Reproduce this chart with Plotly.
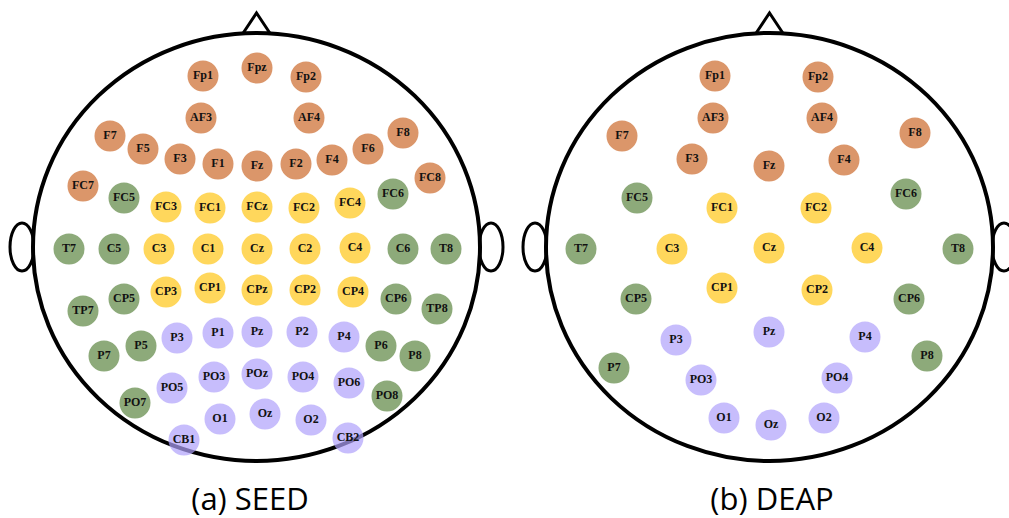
import plotly.graph_objects as go

# ---- electrode layouts (page pixel coordinates) ----
seed_names = ["Fp1", "Fpz", "Fp2", "AF3", "AF4",
              "F7", "F5", "F3", "F1", "Fz", "F2", "F4", "F6", "F8",
              "FC7", "FC5", "FC3", "FC1", "FCz", "FC2", "FC4", "FC6", "FC8",
              "T7", "C5", "C3", "C1", "Cz", "C2", "C4", "C6", "T8",
              "TP7", "CP5", "CP3", "CP1", "CPz", "CP2", "CP4", "CP6", "TP8",
              "P7", "P5", "P3", "P1", "Pz", "P2", "P4", "P6", "P8",
              "PO7", "PO5", "PO3", "POz", "PO4", "PO6", "PO8",
              "CB1", "O1", "Oz", "O2", "CB2"]
seed_x = [203, 257, 306, 201, 309,
          110, 143, 180, 218, 257, 296, 332, 368, 403,
          83, 124, 166, 210, 257, 304, 350, 393, 430,
          69, 114, 159, 208, 257, 305, 355, 403, 446,
          83, 124, 166, 210, 257, 305, 353, 396, 437,
          104, 141, 177, 218, 257, 302, 344, 381, 415,
          135, 172, 214, 257, 303, 349, 387,
          184, 220, 265, 311, 348]
seed_y = [76, 68, 77, 118, 118,
          136, 149, 159, 164, 166, 164, 160, 149, 133,
          186, 198, 207, 208, 207, 208, 203, 194, 178,
          249, 249, 249, 249, 249, 249, 248, 249, 249,
          311, 299, 292, 288, 290, 290, 292, 299, 309,
          356, 346, 338, 333, 332, 332, 337, 346, 356,
          403, 388, 377, 374, 377, 383, 396,
          440, 419, 414, 420, 438]
seed_region = ["F", "F", "F", "F", "F",
               "F", "F", "F", "F", "F", "F", "F", "F", "F",
               "F", "T", "C", "C", "C", "C", "C", "T", "F",
               "T", "T", "C", "C", "C", "C", "C", "T", "T",
               "T", "T", "C", "C", "C", "C", "C", "T", "T",
               "T", "T", "P", "P", "P", "P", "P", "T", "T",
               "T", "P", "P", "P", "P", "P", "T",
               "P", "P", "P", "P", "P"]

deap_names = ["Fp1", "Fp2", "AF3", "AF4", "F7", "F3", "Fz", "F4", "F8",
              "FC5", "FC1", "FC2", "FC6",
              "T7", "C3", "Cz", "C4", "T8",
              "CP5", "CP1", "CP2", "CP6",
              "P7", "P3", "Pz", "P4", "P8",
              "PO3", "PO4", "O1", "Oz", "O2"]
deap_x = [715, 818, 713, 822, 622, 692, 769, 844, 915,
          637, 722, 816, 906,
          581, 672, 769, 867, 958,
          636, 722, 817, 909,
          614, 676, 769, 865, 927,
          701, 837, 724, 771, 824]
deap_y = [76, 77, 118, 118, 136, 159, 166, 160, 133,
          198, 208, 208, 194,
          249, 249, 248, 248, 249,
          299, 288, 290, 299,
          368, 340, 332, 337, 356,
          380, 378, 418, 425, 418]
deap_region = ["F", "F", "F", "F", "F", "F", "F", "F", "F",
               "T", "C", "C", "T",
               "T", "C", "C", "C", "T",
               "T", "C", "C", "T",
               "T", "P", "P", "P", "T",
               "P", "P", "P", "P", "P"]

captions = ["(a) SEED", "(b) DEAP"]
caption_x = [250, 772]
caption_y = [502, 502]

# head outlines: centre x, ears and nose share the same geometry
head_cx = [256.5, 769.5]

region_colors = {
    "F": "rgb(219,150,106)",
    "C": "rgb(255,215,92)",
    "T": "rgb(141,170,122)",
    "P": "rgba(175,161,251,0.7)",
}

fig = go.Figure()

for names, xs, ys, regs in [(seed_names, seed_x, seed_y, seed_region),
                            (deap_names, deap_x, deap_y, deap_region)]:
    fig.add_trace(go.Scatter(
        x=xs, y=ys, text=names, mode="markers+text",
        marker=dict(size=31, color=[region_colors[r] for r in regs],
                    line=dict(width=0)),
        textposition="middle center",
        textfont=dict(family="Liberation Serif", size=12, color="#111111",
                      weight="bold"),
        cliponaxis=False, hoverinfo="text", showlegend=False,
    ))

fig.add_trace(go.Scatter(
    x=caption_x, y=caption_y, text=captions, mode="text",
    textposition="middle center",
    textfont=dict(family="Open Sans", size=31, color="black"),
    cliponaxis=False, hoverinfo="skip", showlegend=False,
))

shapes = []
for cx in head_cx:
    # ears
    for ex in (cx - 234.5, cx + 234.5):
        shapes.append(dict(type="circle", xref="x", yref="y",
                           x0=ex - 12, x1=ex + 12, y0=223, y1=271,
                           line=dict(color="black", width=3),
                           fillcolor="white", layer="below"))
    # scalp
    shapes.append(dict(type="circle", xref="x", yref="y",
                       x0=cx - 223.5, x1=cx + 223.5, y0=33, y1=461,
                       line=dict(color="black", width=4),
                       fillcolor="white", layer="below"))
    # nose
    shapes.append(dict(type="path", xref="x", yref="y",
                       path=f"M {cx-14},34 L {cx},13 L {cx+14},34",
                       line=dict(color="black", width=3), layer="below"))

fig.update_layout(
    width=1009, height=518,
    margin=dict(l=0, r=0, t=0, b=0),
    paper_bgcolor="white", plot_bgcolor="white",
    shapes=shapes,
    xaxis=dict(range=[0, 1009], visible=False, fixedrange=True),
    yaxis=dict(range=[518, 0], visible=False, fixedrange=True),
)

fig.write_html("out.html")
